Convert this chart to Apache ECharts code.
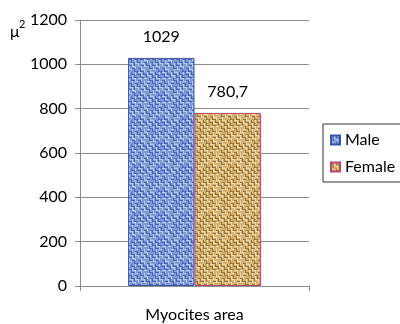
<!DOCTYPE html>
<html>
<head>
<meta charset="utf-8">
<script src="https://cdn.jsdelivr.net/npm/echarts@6/dist/echarts.min.js"></script>
<style>
  html, body { margin: 0; padding: 0; background: #fff; }
  #chart { width: 400px; height: 324px; }
</style>
</head>
<body>
<div id="chart"></div>
<script>
// Mean myocyte cross-sectional area by sex
const categories = ['Myocites area'];
const seriesNames = ['Male', 'Female'];
const maleValues = [1029];
const femaleValues = [780.7];
const yTicks = [0, 200, 400, 600, 800, 1000, 1200];

// Deterministic hash used to vary the thread shades of the fabric tile
function hash(x, y) {
  const s = Math.sin(x * 12.9898 + y * 78.233) * 43758.5453;
  return s - Math.floor(s);
}

// Woven linen texture drawn on a small tile canvas
function weaveTile(base, dark, light) {
  const size = 24;
  const c = document.createElement('canvas');
  c.width = size; c.height = size;
  const g = c.getContext('2d');
  g.fillStyle = base;
  g.fillRect(0, 0, size, size);
  for (let y = 0; y < size; y += 3) {
    for (let x = 0; x < size; x += 3) {
      const horiz = ((x + y) / 3) % 2 === 0;
      const h = hash(x, y);
      g.fillStyle = h > 0.35 ? light : base;
      if (horiz) g.fillRect(x, y, 3, 1); else g.fillRect(x, y, 1, 3);
      g.fillStyle = h < 0.7 ? dark : base;
      if (horiz) g.fillRect(x, y + 2, 3, 1); else g.fillRect(x + 2, y, 1, 3);
    }
  }
  return c;
}

const bluePattern = { image: weaveTile('#7f9bd6', '#4965b4', '#b7cbf1'), repeat: 'repeat' };
const tanPattern = { image: weaveTile('#d3b273', '#9b7437', '#f1deaf'), repeat: 'repeat' };

const font = 'Lato, "Open Sans", sans-serif';
const axisGray = '#8c8c8c';

const chart = echarts.init(document.getElementById('chart'), null, { renderer: 'canvas' });
chart.setOption({
  animation: false,
  backgroundColor: '#ffffff',
  textStyle: { fontFamily: font },
  grid: { left: 80, right: 91, top: 20, bottom: 38 },
  legend: {
    orient: 'vertical',
    left: 323,
    top: 124,
    itemWidth: 9,
    itemHeight: 9,
    itemGap: 9,
    padding: [7, 20, 6, 7],
    borderColor: '#333',
    borderWidth: 1,
    icon: 'rect',
    textStyle: { fontFamily: font, fontSize: 16, lineHeight: 18, color: '#000' },
    data: seriesNames
  },
  xAxis: {
    type: 'category',
    data: categories,
    axisLine: { lineStyle: { color: axisGray } },
    axisTick: { show: true, length: 5, lineStyle: { color: axisGray } },
    axisLabel: { fontFamily: font, fontSize: 16, color: '#000', margin: 21 }
  },
  yAxis: {
    type: 'value',
    min: yTicks[0],
    max: yTicks[yTicks.length - 1],
    interval: 200,
    axisLine: { show: true, lineStyle: { color: axisGray } },
    axisTick: { show: true, length: 5, lineStyle: { color: axisGray } },
    axisLabel: { fontFamily: font, fontSize: 16, color: '#000', margin: 13, formatter: v => String(v) },
    splitLine: { lineStyle: { color: axisGray, width: 1 } }
  },
  // Unit of the value axis: μ²
  graphic: [
    {
      type: 'text', left: 10, top: 24,
      style: { text: 'μ', fontFamily: font, fontSize: 16, fill: '#000' }
    },
    {
      type: 'text', left: 19, top: 19,
      style: { text: '2', fontFamily: font, fontSize: 11, fill: '#000' }
    }
  ],
  series: [
    {
      name: seriesNames[0],
      type: 'bar',
      data: maleValues,
      barCategoryGap: '42%',
      barGap: '0%',
      itemStyle: { color: bluePattern, borderColor: '#3b55a5', borderWidth: 1 },
      label: {
        show: true, position: 'top', distance: 13,
        fontFamily: font, fontSize: 16, color: '#000',
        formatter: p => String(p.value).replace('.', ',')
      }
    },
    {
      name: seriesNames[1],
      type: 'bar',
      data: femaleValues,
      barGap: '0%',
      itemStyle: { color: tanPattern, borderColor: '#b8466a', borderWidth: 1 },
      label: {
        show: true, position: 'top', distance: 13,
        fontFamily: font, fontSize: 16, color: '#000',
        formatter: p => String(p.value).replace('.', ',')
      }
    }
  ]
});
</script>
</body>
</html>
